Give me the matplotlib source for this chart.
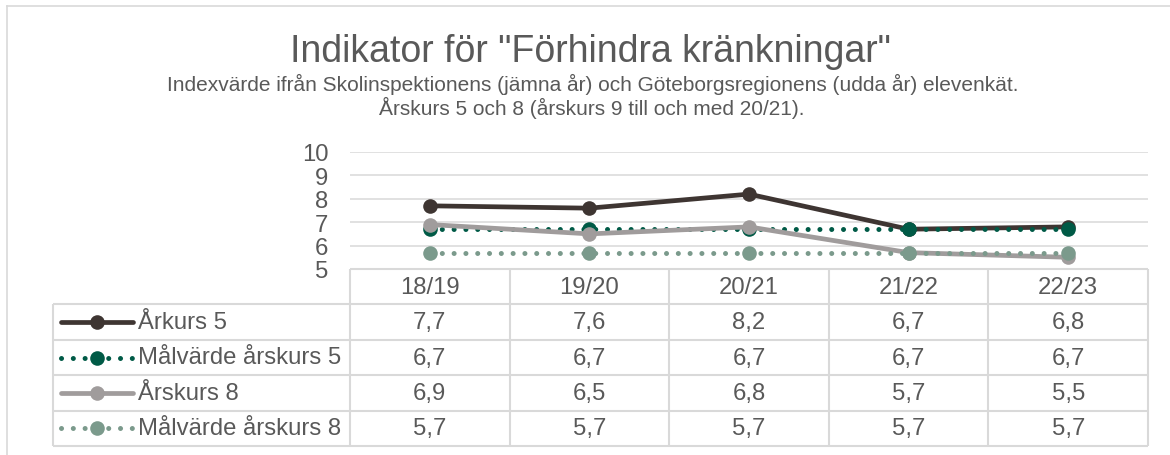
import matplotlib
matplotlib.use("Agg")
import matplotlib.pyplot as plt
from matplotlib.lines import Line2D

plt.rcParams['font.family'] = ['Liberation Sans', 'DejaVu Sans']

# ---- data ----
categories = ["18/19", "19/20", "20/21", "21/22", "22/23"]
series_names = ["Årkurs 5", "Målvärde årskurs 5", "Årskurs 8", "Målvärde årskurs 8"]
arskurs5 = [7.7, 7.6, 8.2, 6.7, 6.8]
malvarde5 = [6.7, 6.7, 6.7, 6.7, 6.7]
arskurs8 = [6.9, 6.5, 6.8, 5.7, 5.5]
malvarde8 = [5.7, 5.7, 5.7, 5.7, 5.7]
yticks = [5, 6, 7, 8, 9, 10]
title = 'Indikator för "Förhindra kränkningar"'
subtitle1 = "Indexvärde ifrån Skolinspektionens (jämna år) och Göteborgsregionens (udda år) elevenkät."
subtitle2 = "Årskurs 5 och 8 (årskurs 9 till och med 20/21)."

series_values = [arskurs5, malvarde5, arskurs8, malvarde8]
colors = ["#3e3532", "#005a46", "#a09c9c", "#7b9a8c"]
dotted = [False, True, False, True]

TXT = "#595959"
GRID = "#d9d9d9"
FS = 17.2

W, H = 1170, 456
fig = plt.figure(figsize=(W / 100, H / 100), dpi=100)

def fx(px):
    return px / W

def fy(py):
    return 1 - py / H

# outer border
fig.add_artist(Line2D([fx(7), fx(7)], [fy(7), fy(456)], color=GRID, lw=1.2, transform=fig.transFigure))
fig.add_artist(Line2D([fx(7), fx(1170)], [fy(7), fy(7)], color=GRID, lw=1.2, transform=fig.transFigure))

# titles
fig.text(fx(590), fy(62), title, ha="center", va="baseline", fontsize=27, color=TXT)
fig.text(fx(593), fy(91), subtitle1, ha="center", va="baseline", fontsize=15.0, color=TXT)
fig.text(fx(592), fy(115), subtitle2, ha="center", va="baseline", fontsize=15.0, color=TXT)

# plot axes
L, R, T, B = 350, 1148, 153, 270
ax = fig.add_axes([fx(L), fy(B), fx(R - L), (B - T) / H])
ax.set_xlim(-0.5, len(categories) - 0.5)
ax.set_ylim(5, 10)
ax.set_yticks(yticks)
ax.set_yticklabels([str(v) for v in yticks], fontsize=FS, color=TXT)
ax.tick_params(axis="y", length=0, pad=15.5)
ax.set_xticks([])
for s in ax.spines.values():
    s.set_visible(False)
for v in yticks[1:]:
    ax.axhline(v, color=GRID, lw=1.1, zorder=0)

x = list(range(len(categories)))

def style(i):
    if dotted[i]:
        return dict(linestyle=(0, (0.01, 2.35)), lw=3.6, dash_capstyle="round")
    return dict(linestyle="-", lw=3.4, solid_capstyle="round")

for i, vals in enumerate(series_values):
    ax.plot(x, vals, color=colors[i], marker="o", markersize=10.5,
            markeredgewidth=0, clip_on=False, zorder=3 + i, **style(i))

# table axes
TL = 53
TB = 447
tax = fig.add_axes([fx(TL), fy(TB), fx(R - TL), (TB - B) / H])
unit = (R - L) / len(categories)
xleft = -0.5 - (L - TL) / unit
tax.set_xlim(xleft, len(categories) - 0.5)
nrows = 1 + len(series_names)
tax.set_ylim(nrows, 0)
tax.axis("off")

lk = dict(color=GRID, lw=1.5, solid_capstyle="butt", clip_on=False)
# horizontal lines
tax.plot([-0.5, len(categories) - 0.5], [0, 0], **lk)
for r in range(1, nrows + 1):
    tax.plot([xleft, len(categories) - 0.5], [r, r], **lk)
# vertical lines
tax.plot([xleft, xleft], [1, nrows], **lk)
for c in range(len(categories) + 1):
    tax.plot([c - 0.5, c - 0.5], [0, nrows], **lk)

# header
for c, cat in enumerate(categories):
    tax.text(c, 0.5, cat, ha="center", va="center", fontsize=FS, color=TXT)

# rows
kx0 = xleft + (61 - TL) / unit
kx1 = xleft + (133 - TL) / unit
tx = xleft + (138 - TL) / unit
for i, name in enumerate(series_names):
    yc = i + 1.5
    tax.plot([kx0, kx1], [yc, yc], color=colors[i], clip_on=False, **style(i))
    tax.plot([(kx0 + kx1) / 2], [yc], color=colors[i], marker="o",
             markersize=10.5, markeredgewidth=0, clip_on=False)
    tax.text(tx, yc, name, ha="left", va="center", fontsize=FS, color=TXT)
    for c, v in enumerate(series_values[i]):
        tax.text(c, yc, f"{v:.1f}".replace(".", ","), ha="center", va="center",
                 fontsize=FS, color=TXT)

fig.savefig("out.png", dpi=100, facecolor="white")
